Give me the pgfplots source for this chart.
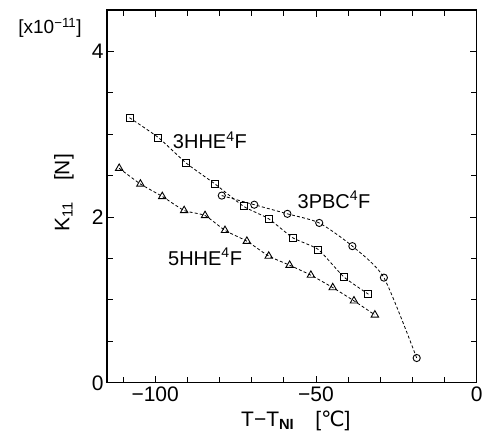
\documentclass[border=0pt]{standalone}
\usepackage{fontspec}
\setmainfont{Liberation Sans}
\newfontfamily\dejavu{DejaVu Sans}
\usepackage{pgfplots}
\pgfplotsset{compat=1.18}

% 3HHE4F (squares)
\pgfplotstableread{
x y
-108 3.20
-99 2.96
-90.3 2.65
-81.4 2.40
-72.5 2.13
-64.7 1.98
-57.2 1.75
-49.3 1.61
-41.4 1.28
-33.7 1.07
}\tabsq
% 3PBC4F (circles)
\pgfplotstableread{
x y
-79.3 2.26
-69.2 2.15
-58.9 2.04
-49.0 1.93
-38.7 1.65
-28.9 1.27
-18.7 0.30
}\tabci
% 5HHE4F (triangles)
\pgfplotstableread{
x y
-111.2 2.59
-104.6 2.40
-97.8 2.25
-91.0 2.08
-84.5 2.02
-78.3 1.84
-71.5 1.71
-64.7 1.53
-58.2 1.42
-51.6 1.30
-44.8 1.15
-38.2 0.99
-31.7 0.82
}\tabtri

\begin{document}
\begin{tikzpicture}
\begin{axis}[
 scale only axis,width=370pt,height=373pt,
 xmin=-115,xmax=0,ymin=0,ymax=4.5,
 xtick={-100,-50,0},minor xtick={-110,-100,...,-10},
 ytick={0,2,4},minor ytick={0.5,1,...,4.5},
 tick align=inside,major tick length=7pt,minor tick length=6pt,
 tick style={black,line width=1pt},
 xticklabels={−100,−50,0},yticklabels={0,2,4},
 tick label style={font=\fontsize{21}{23}\selectfont},
 axis line style={line width=1.1pt},
]
\addplot[black,line width=0.8pt,dash pattern=on 3pt off 2.2pt,
  mark=square,mark size=3.5pt,mark options={solid,fill=white,line width=0.9pt},
  smooth,tension=0.3] table {\tabsq};
\addplot[black,line width=0.8pt,dash pattern=on 3pt off 2.2pt,
  mark=o,mark size=3.6pt,mark options={solid,fill=white,line width=0.9pt},
  smooth,tension=0.4] table {\tabci};
\addplot[black,line width=0.8pt,dash pattern=on 3pt off 2.2pt,
  mark=triangle,mark size=4.3pt,mark options={solid,fill=white,line width=0.9pt},
  smooth,tension=0.3] table {\tabtri};
\node[font=\fontsize{20}{22}\selectfont] at (axis cs:-83,2.93) {3HHE\textsuperscript{4}F};
\node[font=\fontsize{20}{22}\selectfont] at (axis cs:-44.4,2.21) {3PBC\textsuperscript{4}F};
\node[font=\fontsize{20}{22}\selectfont] at (axis cs:-84.5,1.52) {5HHE\textsuperscript{4}F};
\end{axis}
\node[rotate=90,font=\fontsize{21}{23}\selectfont] at (-43pt,190pt) {K\textsubscript{11}\quad[N]};
\node[font=\fontsize{21}{23}\selectfont] at (189pt,-38pt) {T−T\textsubscript{\textbf{NI}}\quad[{\dejavu ℃}]};
\node[font=\fontsize{19}{21}\selectfont] at (-57pt,355pt) {[x10\textsuperscript{−11}]};
\path (-107pt,-51pt) rectangle (379pt,383pt);
\end{tikzpicture}
\end{document}
